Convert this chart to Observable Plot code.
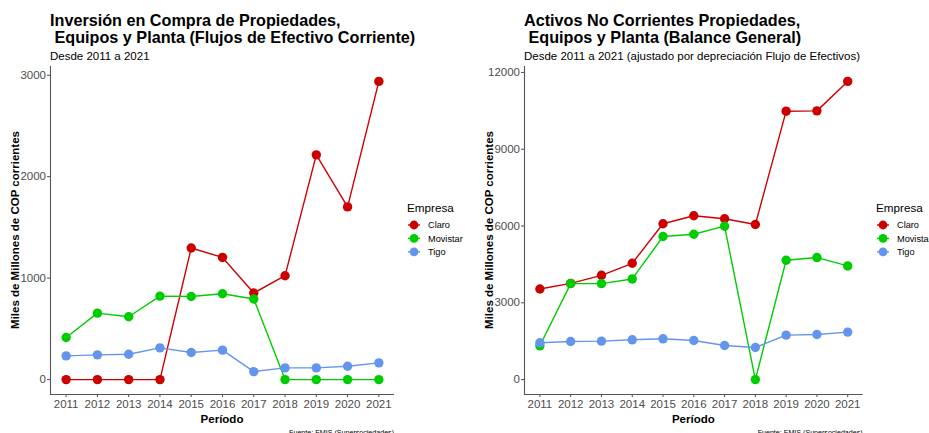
<!DOCTYPE html>
<html><head><meta charset="utf-8">
<script src="https://cdn.jsdelivr.net/npm/d3@7"></script>
<script src="https://cdn.jsdelivr.net/npm/@observablehq/plot@0.6"></script>
<style>
body{margin:0;background:#fff;font-family:"Liberation Sans",Arial,sans-serif;}
#root{position:relative;width:929px;height:433px;overflow:hidden;background:#fff;}
#root > svg, #root > figure{position:absolute;top:0;margin:0;}
</style></head><body><div id="root"></div>
<script>
const years = [2011,2012,2013,2014,2015,2016,2017,2018,2019,2020,2021];
const empresas = ["Claro","Movistar","Tigo"];
const colores = ["#CD0000","#00CD00","#6495ED"];

// Inversión en Compra de PPE (flujo de efectivo), miles de millones COP
const invClaro    = [0,0,0,0,1297,1204,853,1024,2215,1702,2939];
const invMovistar = [415,655,619,823,819,846,794,0,0,0,0];
const invTigo     = [234,244,250,313,267,290,79,115,115,132,165];

// Activos no corrientes PPE (balance general)
const actClaro    = [3541,3760,4074,4544,6087,6400,6283,6060,10486,10498,11649];
const actMovistar = [1320,3749,3749,3932,5590,5680,5993,0,4661,4767,4440];
const actTigo     = [1437,1489,1502,1554,1593,1528,1332,1253,1738,1763,1856];

const invTicks = [0,1000,2000,3000];
const actTicks = [0,3000,6000,9000,12000];

function table(a,b,c){
  const rows=[];
  [a,b,c].forEach((s,i)=>s.forEach((v,j)=>rows.push({empresa:empresas[i],year:years[j],value:v})));
  return rows;
}
const FONT='"Liberation Sans", Arial, sans-serif';

function panel(data, yTicks, width, ml, mr){
  const maxV = d3.max(data,d=>d.value), minV = d3.min(data,d=>d.value);
  const pad = (maxV-minV)*0.05;
  const yDom = [minV-pad, maxV+pad];
  return Plot.plot({
    width, height:433, marginLeft:ml, marginRight:mr, marginTop:66, marginBottom:39,
    style:{fontFamily:FONT, background:"transparent", overflow:"visible"},
    x:{domain:[2010.5,2021.5]},
    y:{domain:yDom},
    color:{domain:empresas, range:colores},
    marks:[
      Plot.axisX({ticks:years, tickFormat:d=>String(d), tickSize:3, tickPadding:2, fontSize:11.5, color:"#4d4d4d", label:null}),
      Plot.axisY({ticks:yTicks, tickFormat:d=>String(d), tickSize:3, tickPadding:1.5, fontSize:11.5, color:"#4d4d4d", label:null}),
      Plot.ruleX([2010.5],{stroke:"#555", strokeWidth:1.1}),
      Plot.ruleY([yDom[0]],{stroke:"#555", strokeWidth:1.1}),
      Plot.line(data,{x:"year",y:"value",z:"empresa",stroke:"empresa",strokeWidth:1.4}),
      Plot.dot(data,{x:"year",y:"value",fill:"empresa",r:4.7})
    ]
  });
}

const root = document.getElementById("root");
const p1 = panel(table(invClaro,invMovistar,invTigo), invTicks, 470, 50, 76);
p1.style.left="0px";
root.appendChild(p1);
const p2 = panel(table(actClaro,actMovistar,actTigo), actTicks, 459, 54, 66.4);
p2.style.left="470px";
root.appendChild(p2);

// overlay texts
const svg = d3.select(root).append("svg").attr("width",929).attr("height",433)
  .style("left","0px").style("font-family",FONT);

function texts(x0, plotL, plotR, title1, title2, sub, legX){
  svg.append("text").attr("x",x0).attr("y",26.3).attr("font-size",16.2).attr("font-weight","bold")
     .style("white-space","pre").text(title1);
  svg.append("text").attr("x",x0).attr("y",42.7).attr("font-size",16.2).attr("font-weight","bold")
     .style("white-space","pre").text(title2);
  svg.append("text").attr("x",x0).attr("y",60).attr("font-size",11.5).text(sub);
  svg.append("text").attr("transform",`translate(${x0-31},230) rotate(-90)`).attr("text-anchor","middle")
     .attr("font-size",11.5).attr("font-weight","bold").text("Miles de Millones de COP corrientes");
  svg.append("text").attr("x",(plotL+plotR)/2).attr("y",423).attr("text-anchor","middle")
     .attr("font-size",11.5).attr("font-weight","bold").text("Período");
  svg.append("text").attr("x",plotR).attr("y",434.5).attr("text-anchor","end")
     .attr("font-size",7.1).text("Fuente: EMIS (Supersociedades)");
  // legend
  svg.append("text").attr("x",legX).attr("y",211.5).attr("font-size",11.7).text("Empresa");
  empresas.forEach((e,i)=>{
    const cy = 225 + i*13.4;
    svg.append("line").attr("x1",legX+1).attr("x2",legX+13).attr("y1",cy).attr("y2",cy)
       .attr("stroke",colores[i]).attr("stroke-width",1.4);
    svg.append("circle").attr("cx",legX+7).attr("cy",cy).attr("r",4.4).attr("fill",colores[i]);
    svg.append("text").attr("x",legX+21).attr("y",cy+3.3).attr("font-size",9.2).text(e);
  });
}
texts(50, 50, 394, "Inversión en Compra de Propiedades,", " Equipos y Planta (Flujos de Efectivo Corriente)", "Desde 2011 a 2021", 407);
texts(524, 524, 862.6, "Activos No Corrientes Propiedades,", " Equipos y Planta (Balance General)", "Desde 2011 a 2021 (ajustado por depreciación Flujo de Efectivos)", 876);
</script></body></html>
